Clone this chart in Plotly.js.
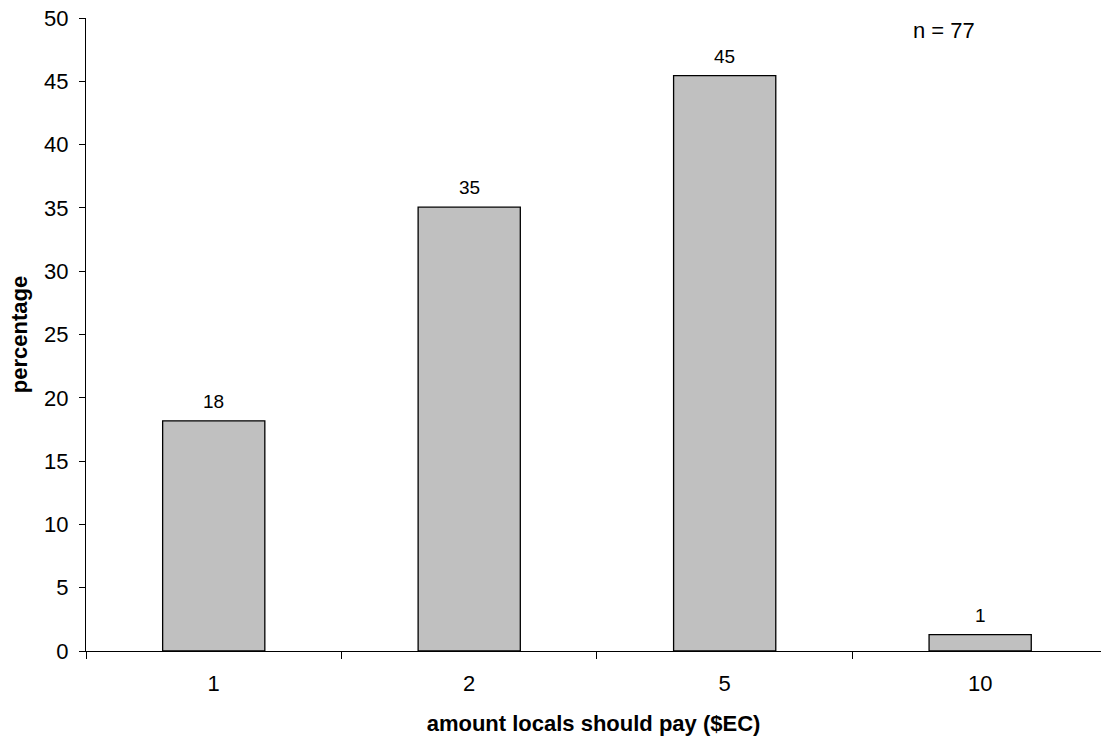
<!DOCTYPE html>
<html>
<head>
<meta charset="utf-8">
<script src="https://cdn.plot.ly/plotly-3.0.1.min.js"></script>
<style>html,body{margin:0;padding:0;background:#fff;}#chart{width:1101px;height:743px;}</style>
</head>
<body>
<div id="chart"></div>
<script>
// Data
const categories = ["1", "2", "5", "10"];
const percentages = [18.18, 35.06, 45.45, 1.30];
const valueLabels = ["18", "35", "45", "1"];
const yTicks = [0, 5, 10, 15, 20, 25, 30, 35, 40, 45, 50];
const sampleNote = "n = 77";

const FONT = '"Liberation Sans", Arial, sans-serif';

const trace = {
  type: 'bar',
  x: categories,
  y: percentages,
  width: 0.4,
  marker: { color: '#c0c0c0', line: { color: '#000000', width: 1.3 } },
  hoverinfo: 'none'
};

// category axis: annotation x given as category index
const annotations = categories.map((c, i) => ({
  x: i, y: percentages[i], xref: 'x', yref: 'y',
  text: valueLabels[i], showarrow: false,
  yanchor: 'bottom', yshift: 7,
  font: { family: FONT, size: 19, color: '#000' }
}));

annotations.push({
  xref: 'paper', yref: 'paper', x: 0.845, y: 0.98,
  xanchor: 'center', yanchor: 'middle',
  text: sampleNote, showarrow: false,
  font: { family: FONT, size: 22, color: '#000' }
});

const layout = {
  width: 1101, height: 743,
  margin: { l: 86, r: 0, t: 18, b: 92 },
  paper_bgcolor: '#ffffff', plot_bgcolor: '#ffffff',
  showlegend: false,
  font: { family: FONT, color: '#000' },
  xaxis: {
    type: 'category',
    range: [-0.5, 3.473],
    tickson: 'boundaries',
    ticks: 'outside', ticklen: 7, tickwidth: 1, tickcolor: '#000',
    showline: true, linecolor: '#000', linewidth: 1,
    showgrid: false, zeroline: false,
    tickfont: { family: FONT, size: 22, color: '#000' },
    ticklabelstandoff: 13,
    title: { text: 'amount locals should pay ($EC)', font: { family: FONT, size: 22, color: '#000', weight: 'bold' }, standoff: 20 }
  },
  yaxis: {
    range: [0, 50],
    tickmode: 'array', tickvals: yTicks, ticktext: yTicks.map(String),
    ticks: 'outside', ticklen: 6, tickwidth: 1, tickcolor: '#000',
    showline: true, linecolor: '#000', linewidth: 1,
    showgrid: false, zeroline: false,
    tickfont: { family: FONT, size: 22, color: '#000' },
    ticklabelstandoff: 6,
    title: { text: 'percentage', font: { family: FONT, size: 22, color: '#000', weight: 'bold' }, standoff: 10 }
  },
  annotations: annotations
};

Plotly.newPlot('chart', [trace], layout, { staticPlot: true, displayModeBar: false });
</script>
</body>
</html>
